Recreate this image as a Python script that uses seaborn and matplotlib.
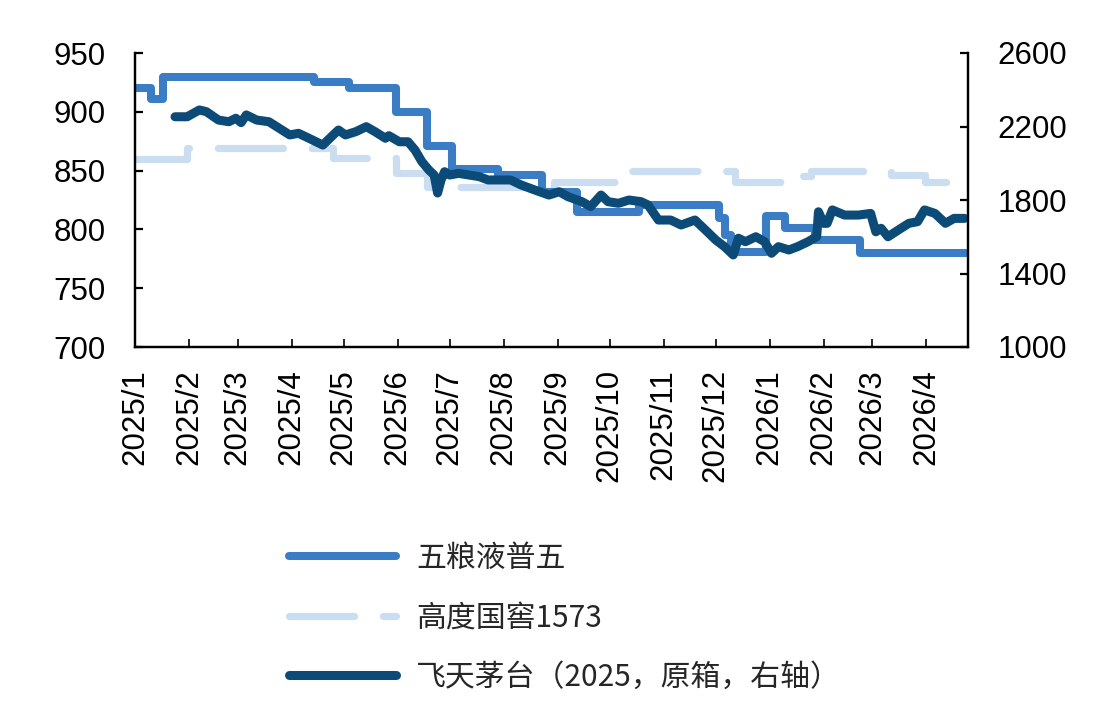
import pandas as pd
import matplotlib.pyplot as plt
import seaborn as sns

# 五粮液普五 (left axis) - step changes
wly_dates = ["2025-01-01", "2025-01-10", "2025-01-17", "2025-04-14", "2025-05-04",
             "2025-05-31", "2025-06-18", "2025-07-02", "2025-07-29", "2025-08-23",
             "2025-09-12", "2025-10-18", "2025-12-03", "2025-12-06", "2025-12-10",
             "2025-12-30", "2026-01-10", "2026-01-27", "2026-02-22", "2026-04-24"]
wly_price = [920, 911, 930, 925, 920,
             900, 871, 851, 846, 832,
             815, 821, 810, 795, 781,
             811, 801, 791, 780, 780]

# 高度国窖1573 (left axis) - step changes
gj_dates = ["2025-01-01", "2025-01-31", "2025-04-25", "2025-05-31", "2025-06-18",
            "2025-08-30", "2025-10-12", "2025-12-12", "2026-01-18", "2026-01-25",
            "2026-03-12", "2026-03-31", "2026-04-24"]
gj_price = [860, 869, 861, 848, 836,
            840, 850, 840, 845, 850,
            846, 840, 840]

# 飞天茅台 2025 原箱 (right axis)
mt_dates = ["2025-01-24", "2025-01-31", "2025-02-07", "2025-02-11", "2025-02-18",
            "2025-02-24", "2025-02-28", "2025-03-03", "2025-03-06", "2025-03-12",
            "2025-03-19", "2025-03-25", "2025-03-31", "2025-04-05", "2025-04-11",
            "2025-04-19", "2025-04-24", "2025-04-28", "2025-05-02", "2025-05-08",
            "2025-05-14", "2025-05-19", "2025-05-25", "2025-05-27", "2025-06-02",
            "2025-06-07", "2025-06-11", "2025-06-15", "2025-06-19", "2025-06-22",
            "2025-06-24", "2025-06-26", "2025-06-28", "2025-07-01", "2025-07-06",
            "2025-07-12", "2025-07-18", "2025-07-23", "2025-07-29", "2025-08-05",
            "2025-08-11", "2025-08-19", "2025-08-27", "2025-09-02", "2025-09-07",
            "2025-09-15", "2025-09-20", "2025-09-26", "2025-09-30", "2025-10-06",
            "2025-10-12", "2025-10-19", "2025-10-23", "2025-10-29", "2025-11-05",
            "2025-11-11", "2025-11-19", "2025-11-25", "2025-12-01", "2025-12-06",
            "2025-12-11", "2025-12-14", "2025-12-18", "2025-12-24", "2025-12-29",
            "2026-01-02", "2026-01-06", "2026-01-12", "2026-01-17", "2026-01-23",
            "2026-01-28", "2026-01-29", "2026-02-01", "2026-02-03", "2026-02-06",
            "2026-02-13", "2026-02-21", "2026-02-28", "2026-03-03", "2026-03-06",
            "2026-03-10", "2026-03-16", "2026-03-22", "2026-03-27", "2026-03-31",
            "2026-04-06", "2026-04-12", "2026-04-17", "2026-04-23"]
mt_price = [2253, 2253, 2290, 2281, 2235,
            2226, 2245, 2221, 2263, 2235,
            2226, 2190, 2154, 2163, 2136,
            2099, 2145, 2181, 2154, 2172,
            2199, 2172, 2136, 2150, 2117,
            2117, 2072, 2008, 1963, 1936,
            1838, 1909, 1954, 1936, 1945,
            1936, 1927, 1909, 1909, 1909,
            1882, 1854, 1827, 1845, 1818,
            1791, 1764, 1827, 1791, 1782,
            1800, 1791, 1773, 1691, 1691,
            1664, 1691, 1637, 1582, 1546,
            1501, 1592, 1573, 1600, 1573,
            1510, 1546, 1528, 1546, 1573,
            1600, 1736, 1673, 1673, 1746,
            1718, 1718, 1727, 1627, 1646,
            1600, 1637, 1673, 1682, 1746,
            1727, 1673, 1700, 1700]

month_labels = ["2025/1", "2025/2", "2025/3", "2025/4", "2025/5", "2025/6", "2025/7", "2025/8",
                "2025/9", "2025/10", "2025/11", "2025/12", "2026/1", "2026/2", "2026/3", "2026/4"]

series_names = ["五粮液普五", "高度国窖1573", "飞天茅台（2025，原箱，右轴）"]

wly = pd.DataFrame({"date": pd.to_datetime(wly_dates), "price": wly_price})
gj = pd.DataFrame({"date": pd.to_datetime(gj_dates), "price": gj_price})
mt = pd.DataFrame({"date": pd.to_datetime(mt_dates), "price": mt_price})
month_ticks = pd.to_datetime([m + "/1" for m in month_labels], format="%Y/%m/%d")

sns.set_theme(style="white")
plt.rcParams['font.family'] = ['Liberation Sans', 'Noto Sans CJK SC']

c_wly = "#3A7DC4"
c_gj = "#CADDF1"
c_mt = "#0C4A77"

fig = plt.figure(figsize=(11.07, 7.2), dpi=100)
ax = fig.add_axes([135 / 1107, 1 - 347 / 720, (968 - 135) / 1107, (347 - 53) / 720])

sns.lineplot(data=gj, x="date", y="price", ax=ax, color=c_gj, linewidth=5.2,
             drawstyle="steps-post", linestyle=(0, (9, 4)), dash_capstyle="round")
sns.lineplot(data=wly, x="date", y="price", ax=ax, color=c_wly, linewidth=5.8,
             drawstyle="steps-post", solid_capstyle="round", solid_joinstyle="round")

ax2 = ax.twinx()
sns.lineplot(data=mt, x="date", y="price", ax=ax2, color=c_mt, linewidth=6.5,
             solid_capstyle="round", solid_joinstyle="round")

ax.set_xlim(pd.Timestamp("2025-01-01"), pd.Timestamp("2026-04-25"))
ax.set_ylim(700, 950)
ax2.set_ylim(1000, 2600)
ax.set_yticks(range(700, 951, 50))
ax2.set_yticks(range(1000, 2601, 400))
ax.set_xticks(month_ticks)
ax.set_xticklabels(month_labels, rotation=90)

for a in (ax, ax2):
    a.set_xlabel("")
    a.set_ylabel("")
    a.spines["top"].set_visible(False)
    for s in ("left", "right", "bottom"):
        a.spines[s].set_color("black")
        a.spines[s].set_linewidth(1.6)

ax.tick_params(axis="y", direction="in", length=6, width=1.6, labelsize=22.5, pad=21,
               left=True, colors="black")
ax.tick_params(axis="x", direction="in", length=6, width=1.2, labelsize=22.5, pad=16,
               bottom=True, colors="black")
ax2.tick_params(axis="y", direction="in", length=6, width=1.6, labelsize=22.5, pad=21,
                right=True, colors="black")

handles = [ax.lines[1], ax.lines[0], ax2.lines[0]]
fig.legend(handles, series_names, loc="upper left", bbox_to_anchor=(274 / 1107, 1 - 528 / 720),
           frameon=False, handlelength=3.6, handletextpad=0.65, labelspacing=0.95,
           borderpad=0, prop={"family": ["Noto Sans CJK SC", "DejaVu Sans"], "size": 21.5})

fig.savefig("out.png", dpi=100)
